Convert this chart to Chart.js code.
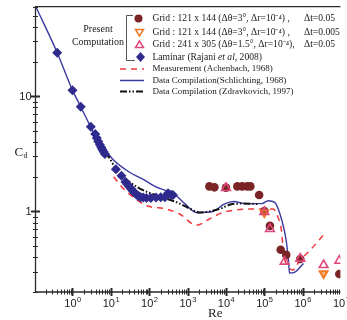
<!DOCTYPE html>
<html>
<head>
<meta charset="utf-8">
<script src="https://cdn.jsdelivr.net/npm/chart.js@4.4.1/dist/chart.umd.min.js"></script>
<style>
  html, body { margin: 0; padding: 0; background: #fff; overflow: hidden; }
  #wrap { width: 347px; height: 320px; }
</style>
</head>
<body>
<div id="wrap"><canvas id="cdChart" width="347" height="320"></canvas></div>
<script>
// axis ranges (log scales)
const xMin = 0.1087, xMax = 9.6e6;
const yMin = 0.2, yMax = 60;
const xTickExponents = [0, 1, 2, 3, 4, 5, 6, 7];
const yTickLabels = [1, 10];

// Laminar (Rajani et al, 2008)
const laminarRe = [0.40, 1.0, 1.64, 3.0, 3.9, 4.3, 4.7, 5.2, 5.6, 6.0, 6.5, 7.0, 13.5, 18.9, 24, 27, 30, 34, 38, 42, 47, 53, 60, 70, 85, 110, 150, 200, 256, 310, 370, 417];
const laminarCd = [23.9, 11.3, 8.1, 5.45, 4.7, 4.35, 4.05, 3.8, 3.6, 3.45, 3.3, 3.15, 2.33, 2.04, 1.8, 1.72, 1.64, 1.57, 1.5, 1.45, 1.4, 1.36, 1.33, 1.32, 1.31, 1.31, 1.32, 1.33, 1.33, 1.44, 1.40, 1.39];

// Present computation
const grid1Re = [3700, 5000, 10000, 19800, 26500, 35600, 43200, 73200, 100000, 140000, 267000, 372000, 863000, 9.0e6];
const grid1Cd = [1.65, 1.62, 1.61, 1.65, 1.65, 1.65, 1.65, 1.39, 1.01, 0.75, 0.466, 0.42, 0.387, 0.287];
const grid2Re = [100000, 3.5e6];
const grid2Cd = [0.98, 0.29];
const grid3Re = [10000, 100000, 140000, 337000, 863000, 3.5e6, 9.0e6];
const grid3Cd = [1.60, 0.99, 0.705, 0.367, 0.39, 0.343, 0.374];

// Measurement (Achenbach, 1968)
const achenbachRe = [11.8, 22, 40, 87, 280, 620, 1700, 3700, 8200, 17700, 48000, 104000, 170000, 227000, 280000, 306000, 330000, 420000, 550000, 815000, 1.65e6, 3.4e6];
const achenbachCd = [2.0, 1.56, 1.32, 1.12, 1.05, 0.95, 0.76, 0.86, 0.98, 1.03, 1.05, 1.05, 1.05, 0.89, 0.68, 0.49, 0.40, 0.33, 0.31, 0.37, 0.47, 0.62];

// Data Compilation (Schlichting, 1968)
const schlichtingRe = [0.109, 0.4, 1, 1.64, 3, 4.5, 7.5, 12.3, 30, 70, 140, 300, 440, 843, 1707, 4550, 9000, 16200, 32200, 86000, 126000, 187000, 288000, 372000, 426000, 452000, 607000, 1.05e6];
const schlichtingCd = [60.6, 23.9, 11.3, 8.1, 5.4, 4.1, 3.35, 2.75, 2.2, 1.9, 1.65, 1.5, 1.42, 1.17, 0.98, 1.0, 1.16, 1.22, 1.17, 1.17, 1.24, 1.2, 0.83, 0.557, 0.374, 0.292, 0.296, 0.354];

// Data Compilation (Zdravkovich, 1997)
const zdravRe = [4, 4.8, 7.5, 15, 50, 163, 527, 1200, 2000, 6700, 14700, 26500, 70300];
const zdravCd = [4.1, 3.59, 3.2, 2.25, 1.62, 1.37, 1.2, 1.05, 0.98, 1.05, 1.16, 1.17, 1.16];

// legend rows: grid rows split into (grid + resolution) and time step
const gridLabels = [
    ['Grid : 121 x 144 (\u0394\u03b8=3\u00b0, \u0394r=10\u207b\u2074) ,', '\u0394t=0.05'],
    ['Grid : 121 x 144 (\u0394\u03b8=3\u00b0, \u0394r=10\u207b\u2074) ,', '\u0394t=0.005'],
    ['Grid : 241 x 305 (\u0394\u03b8=1.5\u00b0, \u0394r=10\u207b\u2074),', '\u0394t=0.05']
];
const otherLabels = [
    'Laminar (Rajani et al, 2008)',
    'Measurement (Achenbach, 1968)',
    'Data Compilation(Schlichting, 1968)',
    'Data Compilation (Zdravkovich, 1997)'
];

const COL_CIRCLE = '#7a2426';
const COL_ORANGE = '#ee7a22';
const COL_PINK = '#e0487c';
const COL_NAVY = '#2e2a8e';
const COL_BLUE = '#3b3aa0';
const COL_RED = '#ee3a3e';

const toPoints = (xs, ys) => xs.map((x, i) => ({x: x, y: ys[i]}));

// axes, ticks, labels and legend drawn by hand
const decorPlugin = {
    id: 'decor',
    afterDraw(chart) {
        const ctx = chart.ctx;
        const {left, right, top, bottom} = chart.chartArea;
        const xs = chart.scales.x, ys = chart.scales.y;
        ctx.save();
        ctx.strokeStyle = '#2a2a2a';
        ctx.lineWidth = 1.3;
        ctx.beginPath();
        ctx.moveTo(right, top); ctx.lineTo(left, top);
        ctx.lineTo(left, bottom); ctx.lineTo(right, bottom);
        ctx.stroke();

        // x ticks
        for (let e = -1; e <= 7; e++) {
            for (let m = 1; m < 10; m++) {
                const v = m * Math.pow(10, e);
                if (v < xs.min || v > xs.max) continue;
                const px = Math.round(xs.getPixelForValue(v)) + 0.5;
                const h = m === 1 ? 4 : 2.5;
                ctx.lineWidth = m === 1 ? 2 : 1;
                ctx.beginPath();
                ctx.moveTo(px, bottom - h); ctx.lineTo(px, bottom + h);
                ctx.stroke();
            }
        }
        // y ticks
        for (let e = -1; e <= 1; e++) {
            for (let m = 1; m < 10; m++) {
                const v = m * Math.pow(10, e);
                if (v < ys.min || v > ys.max) continue;
                const py = Math.round(ys.getPixelForValue(v)) + 0.5;
                const w = m === 1 ? 4.5 : 2.5;
                ctx.lineWidth = m === 1 ? 2 : 1;
                ctx.beginPath();
                ctx.moveTo(left - w, py); ctx.lineTo(left + w, py);
                ctx.stroke();
            }
        }

        // tick labels
        ctx.fillStyle = '#222';
        ctx.textBaseline = 'alphabetic';
        xTickExponents.forEach(e => {
            const px = xs.getPixelForValue(Math.pow(10, e));
            ctx.font = '11px "Liberation Sans", Arial, sans-serif';
            const w1 = ctx.measureText('10').width;
            ctx.font = '7.5px "Liberation Sans", Arial, sans-serif';
            const w2 = ctx.measureText(String(e)).width;
            const x0 = px - (w1 + w2) / 2;
            ctx.font = '11px "Liberation Sans", Arial, sans-serif';
            ctx.textAlign = 'left';
            ctx.fillText('10', x0, 307);
            ctx.font = '7.5px "Liberation Sans", Arial, sans-serif';
            ctx.fillText(String(e), x0 + w1 + 0.5, 302);
        });
        ctx.font = '11px "Liberation Sans", Arial, sans-serif';
        ctx.textAlign = 'right';
        ctx.textBaseline = 'middle';
        yTickLabels.forEach(v => {
            ctx.fillText(String(v), left - 4, ys.getPixelForValue(v) + 0.5);
        });

        // axis titles
        ctx.textAlign = 'left';
        ctx.textBaseline = 'alphabetic';
        ctx.font = '13px "Liberation Serif", "Times New Roman", serif';
        ctx.fillText('C', 14.5, 156);
        ctx.font = '8px "Liberation Serif", "Times New Roman", serif';
        ctx.fillText('d', 23.5, 158);
        ctx.font = '13px "Liberation Serif", "Times New Roman", serif';
        ctx.fillText('Re', 208, 317);

        // legend
        const rowsY = [18.5, 32.5, 44.5, 57, 69, 80.5, 91.5];
        const textX = 152.5;
        const mx = 139.5;
        ctx.lineWidth = 1;
        ctx.strokeStyle = '#555';
        ctx.beginPath();
        ctx.moveTo(133, 15.5); ctx.lineTo(126.5, 15.5); ctx.lineTo(126.5, 60.5); ctx.lineTo(135, 60.5);
        ctx.stroke();
        ctx.fillStyle = '#222';
        ctx.font = '10px "Liberation Serif", "Times New Roman", serif';
        ctx.textAlign = 'center';
        ctx.fillText('Present', 98, 32);
        ctx.fillText('Computation', 98, 44.5);

        // markers
        ctx.fillStyle = COL_CIRCLE;
        ctx.beginPath(); ctx.arc(mx - 1, rowsY[0], 4, 0, Math.PI * 2); ctx.fill();
        ctx.lineWidth = 1.5;
        ctx.strokeStyle = COL_ORANGE;
        ctx.beginPath();
        ctx.moveTo(mx - 4, rowsY[1] - 3); ctx.lineTo(mx + 4, rowsY[1] - 3); ctx.lineTo(mx, rowsY[1] + 3.5); ctx.closePath();
        ctx.stroke();
        ctx.strokeStyle = COL_PINK;
        ctx.beginPath();
        ctx.moveTo(mx - 4, rowsY[2] + 3); ctx.lineTo(mx + 4, rowsY[2] + 3); ctx.lineTo(mx, rowsY[2] - 3.5); ctx.closePath();
        ctx.stroke();
        ctx.fillStyle = COL_NAVY;
        ctx.beginPath();
        ctx.moveTo(mx + 1, rowsY[3] - 5); ctx.lineTo(mx + 5.5, rowsY[3]); ctx.lineTo(mx + 1, rowsY[3] + 5); ctx.lineTo(mx - 3.5, rowsY[3]);
        ctx.closePath(); ctx.fill();

        const lineStyles = [
            {color: COL_RED, dash: [6, 5], w: 1.5},
            {color: COL_BLUE, dash: [], w: 1.5},
            {color: '#111', dash: [7, 2, 1.5, 2, 1.5, 2], w: 2}
        ];
        lineStyles.forEach((s, i) => {
            const y = rowsY[4 + i];
            ctx.strokeStyle = s.color;
            ctx.lineWidth = s.w;
            ctx.setLineDash(s.dash);
            ctx.beginPath(); ctx.moveTo(120, y); ctx.lineTo(144, y); ctx.stroke();
        });
        ctx.setLineDash([]);

        ctx.fillStyle = '#1a1a1a';
        ctx.textAlign = 'left';
        ctx.textBaseline = 'middle';
        const fntBig = '9.6px "Liberation Serif", "Times New Roman", serif';
        const fnt = '9px "Liberation Serif", "Times New Roman", serif';
        ctx.font = fntBig;
        gridLabels.forEach((parts, i) => {
            ctx.fillText(parts[0], textX, rowsY[i]);
            ctx.fillText(parts[1], 304, rowsY[i]);
        });
        otherLabels.forEach((t, k) => {
            const y = rowsY[3 + k];
            const f = k === 0 ? fntBig : fnt;
            ctx.font = f;
            if (t.indexOf(' et al') > 0) {
                const [a, b] = t.split('et al');
                ctx.fillText(a, textX, y);
                let x = textX + ctx.measureText(a).width;
                ctx.font = 'italic ' + f;
                ctx.fillText('et al', x, y);
                x += ctx.measureText('et al').width;
                ctx.font = f;
                ctx.fillText(b, x, y);
            } else {
                ctx.fillText(t, textX, y);
            }
        });
        ctx.restore();
    }
};

new Chart(document.getElementById('cdChart'), {
    type: 'scatter',
    data: {
        datasets: [
            {
                label: 'Grid 241x305',
                data: toPoints(grid3Re, grid3Cd),
                pointStyle: 'triangle',
                pointRadius: 5,
                borderColor: COL_PINK,
                backgroundColor: 'rgba(0,0,0,0)',
                borderWidth: 1.6
            },
            {
                label: 'Grid 121x144 dt=0.005',
                data: toPoints(grid2Re, grid2Cd),
                pointStyle: 'triangle',
                rotation: 180,
                pointRadius: 4.5,
                borderColor: COL_ORANGE,
                backgroundColor: 'rgba(238,122,34,0.55)',
                borderWidth: 2
            },
            {
                label: 'Grid 121x144 dt=0.05',
                data: toPoints(grid1Re, grid1Cd),
                pointStyle: 'circle',
                pointRadius: 4.3,
                borderWidth: 0,
                backgroundColor: COL_CIRCLE
            },
            {
                label: 'Laminar',
                data: toPoints(laminarRe, laminarCd),
                pointStyle: 'rectRot',
                pointRadius: 5,
                borderWidth: 0,
                backgroundColor: COL_NAVY
            },
            {
                label: 'Zdravkovich',
                data: toPoints(zdravRe, zdravCd),
                showLine: true,
                pointRadius: 0,
                borderColor: '#111',
                borderWidth: 2,
                borderDash: [7, 2, 1.5, 2, 1.5, 2],
                cubicInterpolationMode: 'monotone'
            },
            {
                label: 'Schlichting',
                data: toPoints(schlichtingRe, schlichtingCd),
                showLine: true,
                pointRadius: 0,
                borderColor: COL_BLUE,
                borderWidth: 1.4,
                cubicInterpolationMode: 'monotone'
            },
            {
                label: 'Achenbach',
                data: toPoints(achenbachRe, achenbachCd),
                showLine: true,
                pointRadius: 0,
                borderColor: COL_RED,
                borderWidth: 1.5,
                borderDash: [6, 5],
                cubicInterpolationMode: 'monotone'
            }
        ]
    },
    options: {
        responsive: false,
        animation: false,
        layout: {
            padding: {left: 35.5, top: 5, right: 0, bottom: 28}
        },
        plugins: {
            legend: {display: false},
            tooltip: {enabled: false}
        },
        scales: {
            x: {type: 'logarithmic', min: xMin, max: xMax, display: false},
            y: {type: 'logarithmic', min: yMin, max: yMax, display: false}
        }
    },
    plugins: [decorPlugin]
});
</script>
</body>
</html>
